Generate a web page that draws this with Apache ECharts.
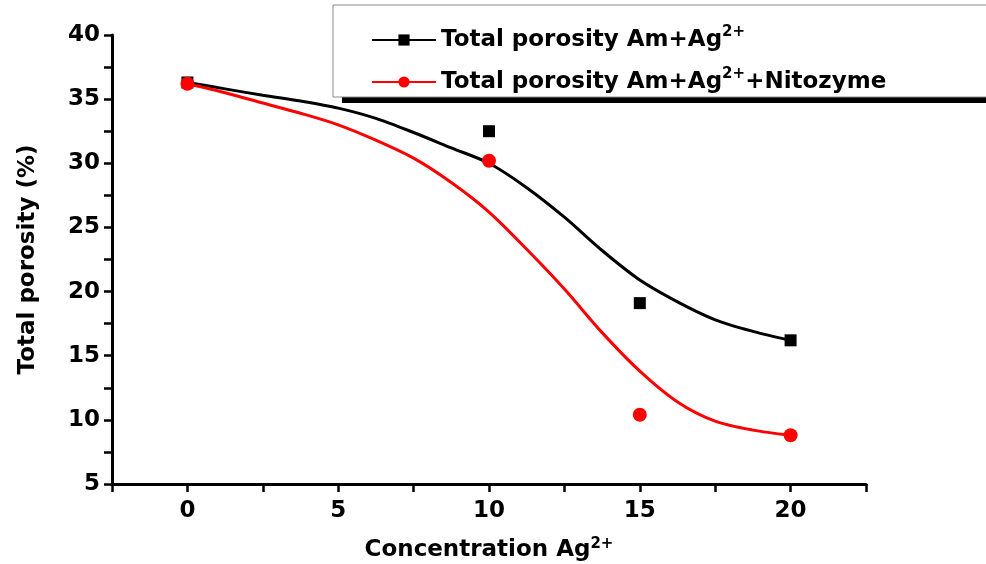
<!DOCTYPE html>
<html>
<head>
<meta charset="utf-8">
<script src="https://cdn.jsdelivr.net/npm/echarts@6/dist/echarts.min.js"></script>
<style>
  html, body { margin: 0; padding: 0; background: #fff; }
  #main { width: 986px; height: 564px; }
</style>
</head>
<body>
<div id="main"></div>
<script>
// measured points
let concentracion = [0, 10, 15, 20];
let porosidadAm = [36.3, 32.5, 19.1, 16.2];
let porosidadNit = [36.2, 30.2, 10.4, 8.8];

// fitted curves
let curvaX = [0, 1.25, 2.5, 3.75, 5, 6.25, 7.5, 8.75, 10, 11.25, 12.5, 13.75, 15, 16.25, 17.5, 18.75, 20];
let curvaAm = [36.3, 35.8, 35.3, 34.85, 34.3, 33.5, 32.4, 31.2, 30.0, 28.1, 25.8, 23.2, 20.9, 19.2, 17.8, 16.9, 16.2];
let curvaNit = [36.2, 35.5, 34.7, 33.9, 33.0, 31.8, 30.4, 28.5, 26.2, 23.3, 20.2, 16.8, 13.8, 11.4, 9.9, 9.2, 8.8];

let nombreAm = 'Total porosity Am+Ag{sup|2+}';
let nombreNit = 'Total porosity Am+Ag{sup|2+}+Nitozyme';

function pares(xs, ys) {
    let out = [];
    for (let i = 0; i < xs.length; i++) out.push([xs[i], ys[i]]);
    return out;
}

let fuente = '"DejaVu Sans", Arial, sans-serif';
let supStyle = { fontSize: 15, fontWeight: 'bold', fontFamily: fuente, color: '#000', verticalAlign: 'top', padding: [0, 0, 12, 0] };

let myChart = echarts.init(document.getElementById('main'));
myChart.setOption({
    animation: false,
    backgroundColor: '#fff',
    grid: { left: 112, right: 120, top: 35, bottom: 80, outerBoundsMode: 'none' },
    graphic: [
        { type: 'rect', z: 0, shape: { x: 342, y: 97, width: 700, height: 6 }, style: { fill: '#000' } },
        { type: 'rect', z: 0, shape: { x: 333, y: 5, width: 700, height: 92 }, style: { fill: '#fff', stroke: '#8a8a8a', lineWidth: 1 } }
    ],
    legend: {
        orient: 'vertical',
        left: 366,
        top: 20,
        itemGap: 12,
        itemWidth: 64,
        itemHeight: 14,
        data: [nombreAm, nombreNit],
        textStyle: {
            fontSize: 23, fontWeight: 'bold', fontFamily: fuente, color: '#000',
            lineHeight: 30,
            rich: { sup: supStyle }
        }
    },
    xAxis: {
        type: 'value',
        min: -2.5,
        max: 22.5,
        interval: 2.5,
        splitLine: { show: false },
        axisLine: { onZero: false, lineStyle: { color: '#000', width: 3 } },
        axisTick: { length: 8, lineStyle: { color: '#000', width: 2.5 } },
        axisLabel: {
            fontSize: 23, fontWeight: 'bold', fontFamily: fuente, color: '#000', margin: 16,
            formatter: function (v) { return (v % 5 === 0) ? String(v) : ''; }
        },
        name: 'Concentration Ag{sup|2+}',
        nameLocation: 'middle',
        nameGap: 53,
        nameTextStyle: {
            fontSize: 23, fontWeight: 'bold', fontFamily: fuente, color: '#000',
            rich: { sup: supStyle }
        }
    },
    yAxis: {
        type: 'value',
        min: 5,
        max: 40,
        interval: 2.5,
        splitLine: { show: false },
        axisLine: { onZero: false, lineStyle: { color: '#000', width: 3 } },
        axisTick: { length: 8, lineStyle: { color: '#000', width: 2.5 } },
        axisLabel: {
            fontSize: 23, fontWeight: 'bold', fontFamily: fuente, color: '#000', margin: 12,
            formatter: function (v) { return (v % 5 === 0) ? String(v) : ''; }
        },
        name: 'Total porosity (%)',
        nameLocation: 'middle',
        nameGap: 72,
        nameTextStyle: { fontSize: 23, fontWeight: 'bold', fontFamily: fuente, color: '#000' }
    },
    series: [
        {
            name: nombreAm,
            type: 'line',
            smooth: 0.3,
            showSymbol: false,
            symbol: 'rect',
            symbolSize: 12,
            data: pares(curvaX, curvaAm),
            lineStyle: { color: '#000', width: 3 },
            itemStyle: { color: '#000' },
            z: 3
        },
        {
            name: nombreNit,
            type: 'line',
            smooth: 0.3,
            showSymbol: false,
            symbol: 'circle',
            symbolSize: 14,
            data: pares(curvaX, curvaNit),
            lineStyle: { color: '#ff0000', width: 3 },
            itemStyle: { color: '#ff0000' },
            z: 3
        },
        {
            name: nombreAm,
            type: 'scatter',
            symbol: 'rect',
            symbolSize: 12,
            data: pares(concentracion, porosidadAm),
            itemStyle: { color: '#000', opacity: 1 },
            z: 4
        },
        {
            name: nombreNit,
            type: 'scatter',
            symbol: 'circle',
            symbolSize: 14,
            data: pares(concentracion, porosidadNit),
            itemStyle: { color: '#ff0000', opacity: 1 },
            z: 5
        }
    ]
});
</script>
</body>
</html>
